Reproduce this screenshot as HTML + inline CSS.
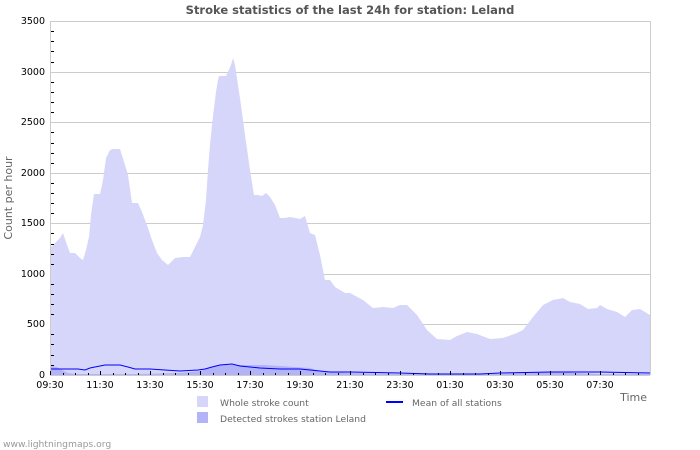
<!DOCTYPE html>
<html><head><meta charset="utf-8"><style>
html,body{margin:0;padding:0;background:#fff;}
svg{display:block;font-family:"DejaVu Sans","Liberation Sans",sans-serif;}
</style></head><body>
<svg width="700" height="450" viewBox="0 0 700 450" xmlns="http://www.w3.org/2000/svg">
<rect width="700" height="450" fill="#fff"/>
<text x="350" y="14" text-anchor="middle" font-size="11.5" font-weight="bold" fill="#555">Stroke statistics of the last 24h for station: Leland</text>
<g stroke="#ccc" stroke-width="1">
<line x1="50" y1="21.5" x2="650" y2="21.5"/>
<line x1="50" y1="72.5" x2="650" y2="72.5"/>
<line x1="50" y1="122.5" x2="650" y2="122.5"/>
<line x1="50" y1="173.5" x2="650" y2="173.5"/>
<line x1="50" y1="223.5" x2="650" y2="223.5"/>
<line x1="50" y1="274.5" x2="650" y2="274.5"/>
<line x1="50" y1="324.5" x2="650" y2="324.5"/>
<line x1="650.5" y1="21" x2="650.5" y2="375"/>
</g>
<polygon fill="#d6d6fb" points="50,375 50,248 55,243 60,238 63,233 67,245 70,253 75,253 80,258 83,260 86,250 89,237 91,215 94,194 100,194 103,180 106,158 110,150 113,149 120,149 125,165 128,175 132,203 138,203 142,212 148,228 152,240 157,253 162,260 168,265 170,263 175,258 183,257 190,257 196,245 200,237 203,225 206,200 208,170 210,145 212,125 214,108 216,92 218,80 219,76 226,76 228,72 231,65 233,58 235,65 238,85 240,98 245,135 250,170 254,195 258,195 262,196 266,193 270,197 275,205 280,218 285,218 290,217 295,218 300,219 305,216 310,233 315,235 320,255 325,280 330,280 335,287 340,290 345,293 350,293 363,300 373,308 383,307 393,308 400,305 407,305 417,315 427,330 437,339 450,340 457,336 467,332 477,334 490,339 503,338 517,333 523,330 533,317 543,305 553,300 563,298 570,302 580,304 588,309 597,308 600,305 607,309 617,312 625,317 632,310 640,309 650,315 650,375"/>
<polygon fill="#b3b3f8" points="50,375 50,366 57,367 62,370 68,373 75,374 90,374 110,374 140,374 180,373 200,371 210,368 220,365 240,365 255,365 265,365 280,366 295,367 310,368 320,371 350,373 400,374 450,374 500,374 530,373 545,372 560,372 575,373 600,374 650,374 650,375"/>
<polyline fill="none" stroke="#0000ff" stroke-width="1" points="50,369 78,369 85,370 90,368 100,366 105,365 120,365 128,367 135,369 150,369 165,370 180,371 198,370 205,369 212,367 220,365 232,364 240,366 250,367 260,368 280,369 300,369 310,370 320,371 330,372 350,372 400,373 430,374 480,374 500,373 550,372 600,372 650,373"/>
<line x1="50.5" y1="21" x2="50.5" y2="375" stroke="#ccc"/>
<line x1="50" y1="375.5" x2="650" y2="375.5" stroke="#ccc"/>
<g stroke="#000" stroke-width="1">
<path d="M51 31.5h3M51 41.5h3M51 51.5h3M51 62.5h3M51 82.5h3M51 92.5h3M51 102.5h3M51 112.5h3M51 132.5h3M51 143.5h3M51 153.5h3M51 163.5h3M51 183.5h3M51 193.5h3M51 203.5h3M51 213.5h3M51 233.5h3M51 244.5h3M51 254.5h3M51 264.5h3M51 284.5h3M51 294.5h3M51 304.5h3M51 314.5h3M51 334.5h3M51 344.5h3M51 355.5h3M51 365.5h3"/>
<path d="M50.5 375v-4M100.5 375v-4M150.5 375v-4M200.5 375v-4M250.5 375v-4M300.5 375v-4M350.5 375v-4M400.5 375v-4M450.5 375v-4M500.5 375v-4M550.5 375v-4M600.5 375v-4"/>
<path d="M63.5 375v-2M75.5 375v-2M88.5 375v-2M113.5 375v-2M125.5 375v-2M138.5 375v-2M163.5 375v-2M175.5 375v-2M188.5 375v-2M213.5 375v-2M225.5 375v-2M238.5 375v-2M263.5 375v-2M275.5 375v-2M288.5 375v-2M313.5 375v-2M325.5 375v-2M338.5 375v-2M363.5 375v-2M375.5 375v-2M388.5 375v-2M413.5 375v-2M425.5 375v-2M438.5 375v-2M463.5 375v-2M475.5 375v-2M488.5 375v-2M513.5 375v-2M525.5 375v-2M538.5 375v-2M563.5 375v-2M575.5 375v-2M588.5 375v-2M613.5 375v-2M625.5 375v-2M638.5 375v-2"/>
</g>
<g font-size="9.5" fill="#000" text-anchor="end">
<text x="45" y="24">3500</text><text x="45" y="75">3000</text><text x="45" y="125">2500</text>
<text x="45" y="176">2000</text><text x="45" y="226">1500</text><text x="45" y="277">1000</text>
<text x="45" y="327">500</text><text x="45" y="378">0</text>
</g>
<g font-size="9.5" fill="#000" text-anchor="middle">
<text x="50" y="388">09:30</text><text x="100" y="388">11:30</text><text x="150" y="388">13:30</text>
<text x="200" y="388">15:30</text><text x="250" y="388">17:30</text><text x="300" y="388">19:30</text>
<text x="350" y="388">21:30</text><text x="400" y="388">23:30</text><text x="450" y="388">01:30</text>
<text x="500" y="388">03:30</text><text x="550" y="388">05:30</text><text x="600" y="388">07:30</text>
</g>
<text x="12" y="198" font-size="11" fill="#666" text-anchor="middle" transform="rotate(-90 12 198)">Count per hour</text>
<text x="647" y="401" font-size="11" fill="#666" text-anchor="end">Time</text>
<rect x="197" y="396" width="11" height="11" fill="#d6d6fb"/>
<text x="220" y="406" font-size="9.2" fill="#666">Whole stroke count</text>
<rect x="197" y="412" width="11" height="11" fill="#b3b3f8"/>
<text x="220" y="422" font-size="9.2" fill="#666">Detected strokes station Leland</text>
<line x1="386" y1="402" x2="403" y2="402" stroke="#0000ff" stroke-width="2"/>
<text x="412" y="406" font-size="9.2" fill="#666">Mean of all stations</text>
<text x="3" y="447" font-size="9.2" fill="#999">www.lightningmaps.org</text>
</svg>
</body></html>
